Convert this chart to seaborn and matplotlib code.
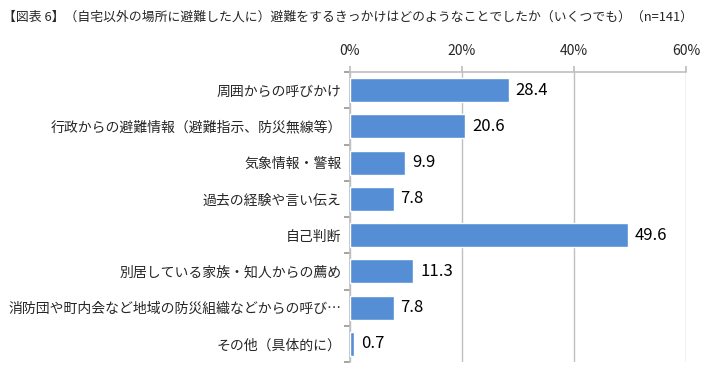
import matplotlib.pyplot as plt
from matplotlib.ticker import FuncFormatter
import pandas as pd
import seaborn as sns

categories = [
    "周囲からの呼びかけ",
    "行政からの避難情報（避難指示、防災無線等）",
    "気象情報・警報",
    "過去の経験や言い伝え",
    "自己判断",
    "別居している家族・知人からの薦め",
    "消防団や町内会など地域の防災組織などからの呼び…",
    "その他（具体的に）",
]
values = [28.4, 20.6, 9.9, 7.8, 49.6, 11.3, 7.8, 0.7]
title = "【図表 6】（自宅以外の場所に避難した人に）避難をするきっかけはどのようなことでしたか（いくつでも）（n=141）"

df = pd.DataFrame({"item": categories, "pct": values})

sns.set_theme(style="white")
plt.rcParams['font.family'] = ['Noto Sans CJK JP', 'DejaVu Sans']

fig = plt.figure(figsize=(7.01, 3.70), dpi=100)
ax = fig.add_axes([350 / 701, 1 - 362 / 370, 336 / 701, 290 / 370])

sns.barplot(data=df, x="pct", y="item", color="#558ED5", saturation=1,
            width=0.66, errorbar=None, ax=ax, zorder=3)

ax.set_xlim(0, 60)
ax.set_ylim(len(categories) - 0.5, -0.5)
ax.set_xticks([0, 20, 40, 60])
ax.xaxis.set_major_formatter(FuncFormatter(lambda v, p: f"{v:.0f}%"))
ax.xaxis.tick_top()
ax.grid(axis="x", color="#BFBFBF", linewidth=1, zorder=0)
ax.set_xlabel("")
ax.set_ylabel("")

for side in ["bottom", "right"]:
    ax.spines[side].set_visible(False)
for side in ["top", "left"]:
    ax.spines[side].set_color("#BFBFBF")
    ax.spines[side].set_linewidth(1.2)

ax.set_yticks([i - 0.5 for i in range(len(categories) + 1)], minor=False)
ax.set_yticklabels([])
ax.set_yticks(range(len(categories)), minor=True)
ax.set_yticklabels(categories, minor=True, fontsize=10)
ax.tick_params(axis="y", which="major", length=4, color="#999999", left=True)
ax.tick_params(axis="y", which="minor", length=0, pad=6)
ax.tick_params(axis="x", which="major", length=4, color="#BFBFBF", top=True,
               labelsize=10, pad=6)

for i, v in enumerate(values):
    ax.text(v + 1.2, i, f"{v}", va="center", ha="left", fontsize=12,
            color="#000000")

# タイトルは図の幅に収まるよう文字サイズを調整
t = fig.text(3 / 701, 1 - 17 / 370, title, fontsize=10, va="center", ha="left")
renderer = fig.canvas.get_renderer()
w = t.get_window_extent(renderer).width
t.set_fontsize(10 * 688 / w)

fig.savefig("out.png", dpi=100)
